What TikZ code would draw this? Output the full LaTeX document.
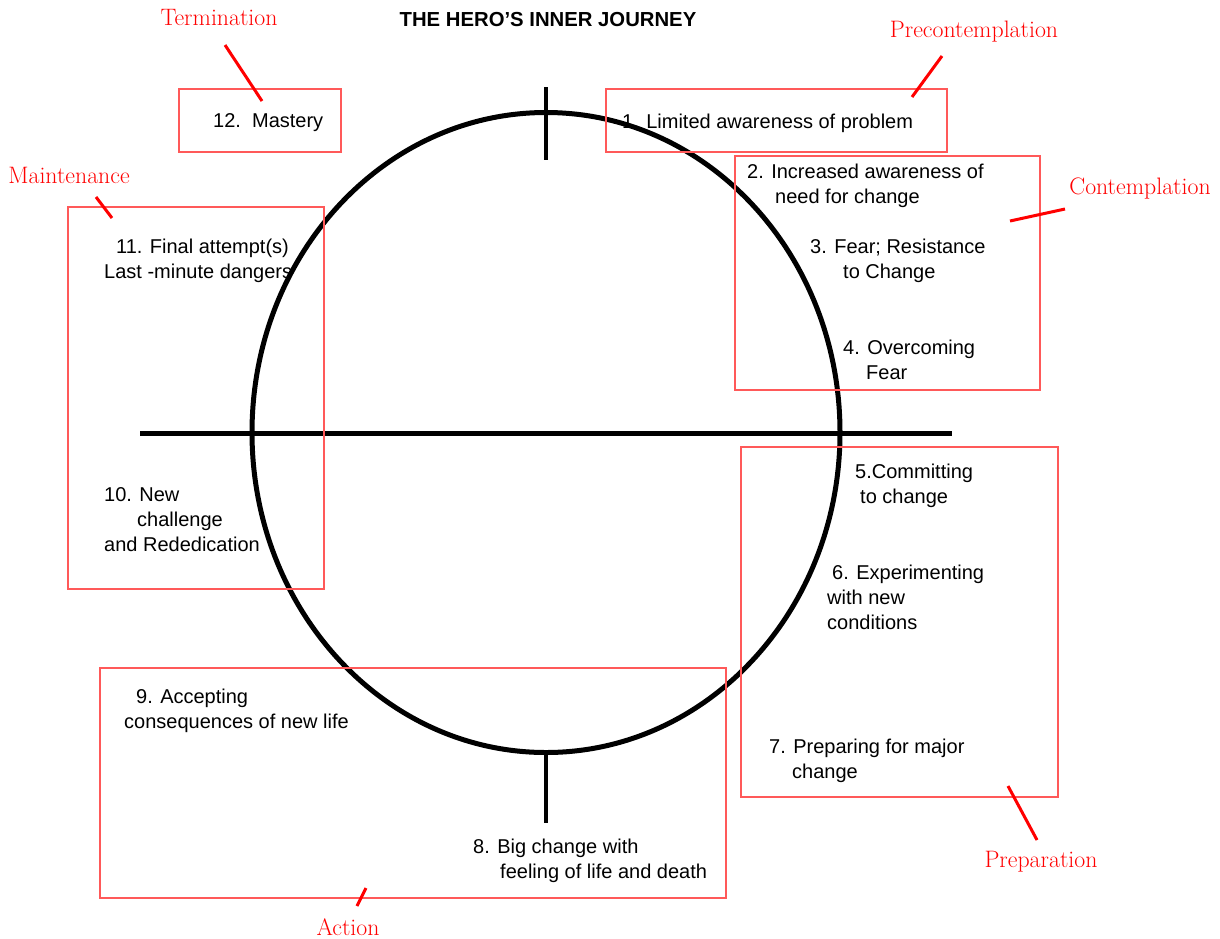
\documentclass[tikz,border=0pt]{standalone}
\usepackage{fontspec}
\newfontfamily\arialfont{Liberation Sans}
\usetikzlibrary{positioning}

\tikzset{
  journey/.style={line width=5pt},
  tick/.style={line width=4pt},
  item/.style={font=\arialfont\fontsize{20}{25}\selectfont, align=left, anchor=north west, inner sep=0pt},
  stagebox/.style={draw=red!65, line width=1.2pt, rectangle, inner sep=0pt},
  stage/.style={text=red, font=\fontsize{23.8}{28}\selectfont, anchor=base, inner sep=0pt},
  pointer/.style={draw=red, line width=3pt}
}

\begin{document}
\begin{tikzpicture}[x=1pt,y=-1pt]
  \useasboundingbox (0,0) rectangle (1220,938);

  % circle and axes
  \draw[journey] (546,432.5) ellipse [x radius=294, y radius=320];
  \draw[journey] (140,433) -- (952,433);
  \draw[tick] (546,87) -- (546,160);
  \draw[tick] (546,752) -- (546,823);

  \node[font=\arialfont\bfseries\fontsize{20.3}{24}\selectfont] (title) at (548,20) {THE HERO’S INNER JOURNEY};

  % steps of the journey
  \node[item] (s12) at (213,113.5) {12.\ \ Mastery};
  \node[item] (s1) at (622,113.5) {1. Limited awareness of problem};
  \node[item] (s2) at (747,163.5) {2. Increased awareness of\\\hspace*{28pt}need for change};
  \node[item] (s3) at (810,238.5) {3. Fear; Resistance\\\hspace*{33pt}to Change};
  \node[item] (s4) at (843,339.5) {4. Overcoming\\\hspace*{23pt}Fear};
  \node[item] (s5) at (855,463.5) {5.Committing\\\hspace*{5pt}to change};
  \node[item] (s6) at (827,564.5) {\hspace*{5pt}6. Experimenting\\with new\\conditions};
  \node[item] (s7) at (769,738.5) {7. Preparing for major\\\hspace*{23pt}change};
  \node[item] (s8) at (473,838.5) {8. Big change with\\\hspace*{27pt}feeling of life and death};
  \node[item] (s9) at (124,688.5) {\hspace*{12pt}9. Accepting\\consequences of new life};
  \node[item] (s10) at (104,487.5) {10. New\\\hspace*{33pt}challenge\\and Rededication};
  \node[item] (s11) at (104,238.5) {\hspace*{12pt}11. Final attempt(s)\\Last -minute dangers};

  % stage boxes
  \node[stagebox, minimum width=162pt, minimum height=63pt] (termbox) at (260,120.5) {};
  \node[stagebox, minimum width=341pt, minimum height=63pt] (precbox) at (776.5,120.5) {};
  \node[stagebox, minimum width=305pt, minimum height=234pt] (contbox) at (887.5,273) {};
  \node[stagebox, minimum width=256pt, minimum height=382pt] (maintbox) at (196,398) {};
  \node[stagebox, minimum width=317pt, minimum height=350pt] (prepbox) at (899.5,622) {};
  \node[stagebox, minimum width=626pt, minimum height=230pt] (actbox) at (413,783) {};

  % stage labels
  \node[stage] (term) at (219,25.5) {Termination};
  \node[stage] (prec) at (974,37.5) {Precontemplation};
  \node[stage] (cont) at (1140,194.5) {Contemplation};
  \node[stage] (maint) at (69,183.5) {Maintenance};
  \node[stage] (prep) at (1041,867.5) {Preparation};
  \node[stage] (act) at (348,935.5) {Action};

  \coordinate (t1) at (225,45);   \coordinate (t2) at (262,101);
  \coordinate (p1) at (942,56);   \coordinate (p2) at (912,97);
  \coordinate (c1) at (1065,209); \coordinate (c2) at (1010,221);
  \coordinate (m1) at (96,197);   \coordinate (m2) at (112,218);
  \coordinate (r1) at (1008,786); \coordinate (r2) at (1037,840);
  \coordinate (a1) at (366,888);  \coordinate (a2) at (357,906);

  \draw[pointer] (t1) -- (t2);
  \draw[pointer] (p1) -- (p2);
  \draw[pointer] (c1) -- (c2);
  \draw[pointer] (m1) -- (m2);
  \draw[pointer] (r1) -- (r2);
  \draw[pointer] (a1) -- (a2);
\end{tikzpicture}
\end{document}
